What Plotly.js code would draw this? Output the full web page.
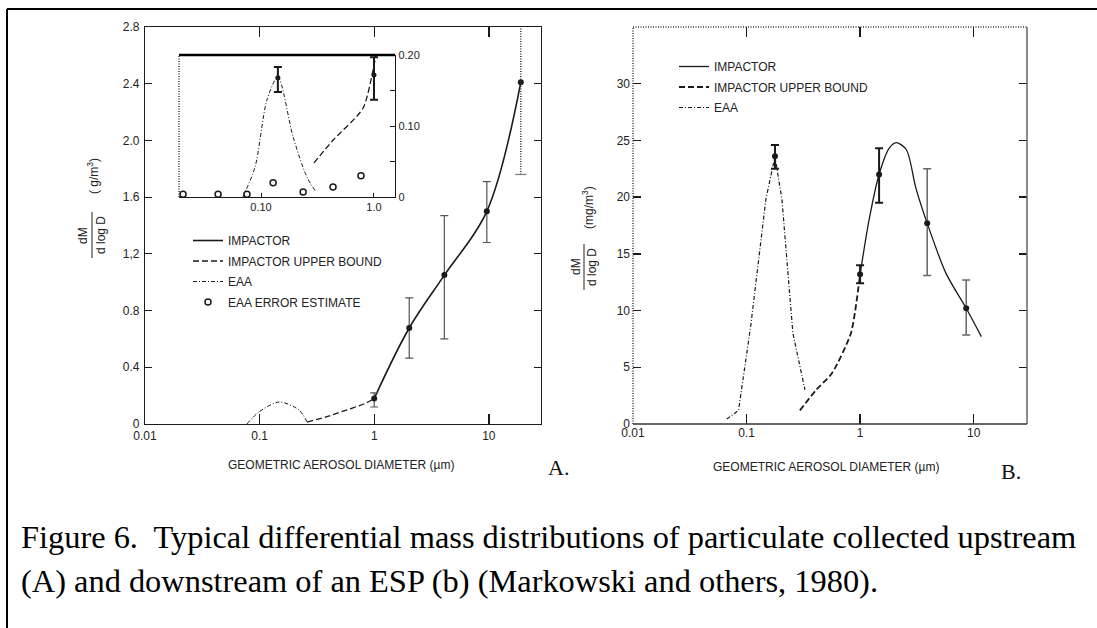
<!DOCTYPE html>
<html><head><meta charset="utf-8">
<script src="https://cdn.plot.ly/plotly-3.0.1.min.js"></script>
<style>html,body{margin:0;padding:0;background:#fff}#chart{width:1097px;height:628px}</style>
</head><body><div id="chart"></div>
<script>
// ---------- Panel A (upstream) ----------
const aImpX = [1.0, 2.02, 4.09, 9.6, 19];
const aImpY = [0.18, 0.677, 1.05, 1.50, 2.41];
const aBarX = [1.0, 2.02, 4.09, 9.6];
const aBarY = [0.18, 0.677, 1.05, 1.50];
const aBarHi = [0.22, 0.89, 1.47, 1.71];
const aBarLo = [0.12, 0.465, 0.60, 1.28];
const aOpenBarX = [19, 19];
const aOpenBarY = [1.76, 3.0];
const aUbX = [0.26, 0.38, 0.49, 0.85, 1.0];
const aUbY = [0.014, 0.05, 0.08, 0.148, 0.18];
const aEaaX = [0.0775, 0.0986, 0.148, 0.22, 0.26];
const aEaaY = [0, 0.085, 0.155, 0.10, 0.014];
// inset of panel A
const inEaaX = [0.069, 0.0885, 0.113, 0.141, 0.192, 0.255, 0.307];
const inEaaY = [0, 0.042, 0.137, 0.169, 0.085, 0.028, 0.007];
const inUbX = [0.294, 0.434, 0.80, 1.04];
const inUbY = [0.048, 0.080, 0.125, 0.2];
const inPtX = [0.141, 1.0];
const inPtY = [0.168, 0.172];
const inPtHi = [0.183, 0.197];
const inPtLo = [0.148, 0.137];
const inErrX = [0.0204, 0.0417, 0.0751, 0.128, 0.236, 0.434, 0.767];
const inErrY = [0.004, 0.004, 0.004, 0.020, 0.007, 0.014, 0.030];
// ---------- Panel B (downstream) ----------
const bEaaX = [0.067, 0.085, 0.109, 0.148, 0.178, 0.205, 0.256, 0.327];
const bEaaY = [0.44, 1.2, 8.7, 19.8, 23.6, 19.8, 8.0, 3.0];
const bUbX = [0.295, 0.41, 0.567, 0.83, 1.0];
const bUbY = [1.2, 3.0, 4.5, 8.0, 13.2];
const bImpX = [1.0, 1.2, 1.47, 1.8, 2.08, 2.55, 3.1, 3.9, 5.7, 8.6, 11.7];
const bImpY = [13.2, 18.0, 22.0, 24.3, 24.8, 24.2, 20.8, 17.7, 13.3, 10.2, 7.7];
const bDarkX = [0.178, 1.0, 1.47];
const bDarkY = [23.6, 13.2, 22.0];
const bDarkHi = [24.6, 14.0, 24.3];
const bDarkLo = [22.5, 12.4, 19.5];
const bGrayX = [3.9, 8.6];
const bGrayY = [17.7, 10.2];
const bGrayHi = [22.5, 12.7];
const bGrayLo = [13.1, 7.85];
// tick labels
const xTickVals = [0.01, 0.1, 1, 10];
const xTickText = ['0.01', '0.1', '1', '10'];
const aYTickVals = [0, 0.4, 0.8, 1.2, 1.6, 2.0, 2.4, 2.8];
const aYTickText = ['0', '0.4', '0.8', '1,2', '1.6', '2.0', '2.4', '2.8'];
const bYTickVals = [0, 5, 10, 15, 20, 25, 30];
const bYTickText = ['0', '5', '10', '15', '20', '25', '30'];
const inXTickVals = [0.1, 1.0];
const inXTickText = ['0.10', '1.0'];
const inYTickVals = [0, 0.10, 0.20];
const inYTickText = ['0', '0.10', '0.20'];

const plus = (hi, y) => hi.map((h, i) => h - y[i]);
const minus = (lo, y) => lo.map((l, i) => y[i] - l);

const W = 1097, H = 628;
const px = v => v / W;
const py = v => 1 - v / H;
const K = '#1a1a1a';
const EAA_DASH = '4px,2px,1px,2px';

const traces = [
  // Panel A main
  {x: aImpX, y: aImpY, xaxis: 'x', yaxis: 'y', mode: 'lines', name: 'IMPACTOR', legend: 'legend', legendgroup: 'a1',
   line: {color: K, width: 1.6, shape: 'spline', smoothing: 1}},
  {x: aUbX, y: aUbY, xaxis: 'x', yaxis: 'y', mode: 'lines', name: 'IMPACTOR UPPER BOUND', legend: 'legend', legendgroup: 'a2',
   line: {color: K, width: 1.3, dash: '6px,3px', shape: 'spline', smoothing: 0.6}},
  {x: aEaaX, y: aEaaY, xaxis: 'x', yaxis: 'y', mode: 'lines', name: 'EAA', legend: 'legend', legendgroup: 'a3',
   line: {color: K, width: 1, dash: EAA_DASH, shape: 'spline', smoothing: 0.8}},
  {x: inErrX, y: inErrY, xaxis: 'x3', yaxis: 'y3', mode: 'markers', name: 'EAA ERROR ESTIMATE', legend: 'legend', legendgroup: 'a4',
   cliponaxis: false, marker: {symbol: 'circle-open', size: 6, color: K, line: {width: 1.5, color: K}}},
  {x: aBarX, y: aBarY, xaxis: 'x', yaxis: 'y', mode: 'markers', showlegend: false,
   marker: {size: 6, color: K},
   error_y: {type: 'data', symmetric: false, array: plus(aBarHi, aBarY), arrayminus: minus(aBarLo, aBarY), color: '#555', thickness: 1.2, width: 4}},
  {x: [aImpX[4]], y: [aImpY[4]], xaxis: 'x', yaxis: 'y', mode: 'markers', showlegend: false, marker: {size: 6, color: K}},
  {x: aOpenBarX, y: aOpenBarY, xaxis: 'x', yaxis: 'y', mode: 'lines', showlegend: false,
   line: {color: '#333', width: 1.5, dash: '1px,1.5px'}},
  {x: [aOpenBarX[0]], y: [aOpenBarY[0]], xaxis: 'x', yaxis: 'y', mode: 'markers', showlegend: false,
   marker: {symbol: 'line-ew-open', size: 8, line: {width: 1.3, color: '#444'}}},
  // inset
  {x: inEaaX, y: inEaaY, xaxis: 'x3', yaxis: 'y3', mode: 'lines', showlegend: false,
   line: {color: K, width: 1, dash: EAA_DASH, shape: 'spline', smoothing: 0.8}},
  {x: inUbX, y: inUbY, xaxis: 'x3', yaxis: 'y3', mode: 'lines', showlegend: false,
   line: {color: K, width: 1.3, dash: '6px,3px', shape: 'spline', smoothing: 0.6}},
  {x: inPtX, y: inPtY, xaxis: 'x3', yaxis: 'y3', mode: 'markers', showlegend: false, cliponaxis: false,
   marker: {size: 5, color: K},
   error_y: {type: 'data', symmetric: false, array: plus(inPtHi, inPtY), arrayminus: minus(inPtLo, inPtY), color: K, thickness: 2, width: 4}},
  // Panel B
  {x: bImpX, y: bImpY, xaxis: 'x2', yaxis: 'y2', mode: 'lines', name: 'IMPACTOR', legend: 'legend2', legendgroup: 'b1',
   line: {color: K, width: 1.3, shape: 'spline', smoothing: 0.8}},
  {x: bUbX, y: bUbY, xaxis: 'x2', yaxis: 'y2', mode: 'lines', name: 'IMPACTOR UPPER BOUND', legend: 'legend2', legendgroup: 'b2',
   line: {color: K, width: 1.8, dash: '6px,3px', shape: 'spline', smoothing: 0.6}},
  {x: bEaaX, y: bEaaY, xaxis: 'x2', yaxis: 'y2', mode: 'lines', name: 'EAA', legend: 'legend2', legendgroup: 'b3',
   line: {color: K, width: 1.2, dash: EAA_DASH}},
  {x: bDarkX, y: bDarkY, xaxis: 'x2', yaxis: 'y2', mode: 'markers', showlegend: false,
   marker: {size: 6, color: K},
   error_y: {type: 'data', symmetric: false, array: plus(bDarkHi, bDarkY), arrayminus: minus(bDarkLo, bDarkY), color: K, thickness: 2, width: 4}},
  {x: bGrayX, y: bGrayY, xaxis: 'x2', yaxis: 'y2', mode: 'markers', showlegend: false,
   marker: {size: 6, color: K},
   error_y: {type: 'data', symmetric: false, array: plus(bGrayHi, bGrayY), arrayminus: minus(bGrayLo, bGrayY), color: '#666', thickness: 1.5, width: 4}}
];

const tickFont = {family: 'Liberation Sans, Arial, sans-serif', size: 12, color: '#222'};
const baseAx = {showgrid: false, zeroline: false, ticks: 'inside', tickcolor: K, tickfont: tickFont, fixedrange: true};

function note(x, y, text, extra) {
  return Object.assign({xref: 'paper', yref: 'paper', x: px(x), y: py(y), text: text, showarrow: false,
    xanchor: 'center', yanchor: 'middle', font: {size: 12, color: '#222'}}, extra || {});
}
const serif = 'Liberation Serif, Times New Roman, serif';

const layout = {
  width: W, height: H, margin: {l: 0, r: 0, t: 0, b: 0},
  paper_bgcolor: '#fff', plot_bgcolor: 'rgba(0,0,0,0)',
  font: {family: 'Liberation Sans, Arial, sans-serif', size: 12, color: '#222'},
  showlegend: true,
  xaxis: Object.assign({}, baseAx, {domain: [px(145), px(541)], anchor: 'y', type: 'log', range: [-2, 1.455],
    tickvals: xTickVals, ticktext: xTickText, ticklen: 10, tickwidth: 1.3, showline: true, linecolor: K, linewidth: 1.3, mirror: 'ticks'}),
  yaxis: Object.assign({}, baseAx, {domain: [py(424), py(27)], anchor: 'x', range: [0, 2.8], ticklabelstandoff: 2,
    tickvals: aYTickVals, ticktext: aYTickText, ticklen: 7, showline: true, linecolor: K, linewidth: 1.2, mirror: 'ticks'}),
  xaxis2: Object.assign({}, baseAx, {domain: [px(633), px(1027)], anchor: 'y2', type: 'log', range: [-2, 1.47],
    tickvals: xTickVals, ticktext: xTickText, ticklen: 10, tickwidth: 1.3, showline: false, mirror: 'ticks'}),
  yaxis2: Object.assign({}, baseAx, {domain: [py(424), py(27)], anchor: 'x2', range: [0, 35], ticklabelstandoff: 2,
    tickvals: bYTickVals, ticktext: bYTickText, ticklen: 8, tickwidth: 1.5, showline: false, mirror: 'ticks'}),
  xaxis3: Object.assign({}, baseAx, {domain: [px(179), px(395)], anchor: 'y3', type: 'log', range: [-1.726, 0.186],
    tickvals: inXTickVals, ticktext: inXTickText, ticklen: 4, showline: true, linecolor: K, linewidth: 1.2,
    tickfont: Object.assign({}, tickFont, {size: 11})}),
  yaxis3: Object.assign({}, baseAx, {domain: [py(197), py(55)], anchor: 'x3', side: 'right', range: [0, 0.2],
    tickvals: inYTickVals, ticktext: inYTickText, ticklen: 5, showline: true, linecolor: K, linewidth: 1.2,
    minor: {dtick: 0.05, ticks: 'inside', ticklen: 5, tickcolor: K},
    tickfont: Object.assign({}, tickFont, {size: 11})}),
  legend: {x: px(188), y: py(226), xanchor: 'left', yanchor: 'top', bgcolor: 'rgba(0,0,0,0)',
    traceorder: 'grouped', tracegroupgap: 1.5, font: {size: 12, color: '#222'}},
  legend2: {x: px(674), y: py(52), xanchor: 'left', yanchor: 'top', bgcolor: 'rgba(0,0,0,0)',
    traceorder: 'grouped', tracegroupgap: 1.5, font: {size: 12, color: '#222'}},
  shapes: [
    // outer frame
    {type: 'line', xref: 'paper', yref: 'paper', x0: px(7), x1: 1, y0: py(9), y1: py(9), line: {color: '#000', width: 2}},
    {type: 'line', xref: 'paper', yref: 'paper', x0: px(7), x1: px(7), y0: py(9), y1: 0, line: {color: '#000', width: 2}},
    // inset borders
    {type: 'line', xref: 'x3 domain', yref: 'y3 domain', x0: 0, x1: 1, y0: 1, y1: 1, line: {color: '#000', width: 2.5}},
    {type: 'line', xref: 'x3 domain', yref: 'y3 domain', x0: 0, x1: 0, y0: 0, y1: 1, line: {color: '#333', width: 1.5, dash: '1px,1.5px'}},
    // panel B borders
    {type: 'line', xref: 'x2 domain', yref: 'y2 domain', x0: 0, x1: 0, y0: 0, y1: 1, line: {color: '#333', width: 1.5, dash: '1px,1.5px'}},
    {type: 'line', xref: 'x2 domain', yref: 'y2 domain', x0: 0, x1: 1, y0: 1, y1: 1, line: {color: '#333', width: 1.5, dash: '1px,1.5px'}},
    {type: 'line', xref: 'x2 domain', yref: 'y2 domain', x0: 1, x1: 1, y0: 0, y1: 1, line: {color: '#666', width: 1.5}},
    {type: 'line', xref: 'x2 domain', yref: 'y2 domain', x0: 0, x1: 1, y0: 0, y1: 0, line: {color: '#333', width: 1.5}},
    // fraction bars of y titles
    {type: 'line', xref: 'paper', yref: 'paper', x0: px(92), x1: px(92), y0: py(212), y1: py(258), line: {color: '#222', width: 1}},
    {type: 'line', xref: 'paper', yref: 'paper', x0: px(584), x1: px(584), y0: py(244), y1: py(290), line: {color: '#222', width: 1}}
  ],
  annotations: [
    note(341, 465, 'GEOMETRIC AEROSOL DIAMETER (µm)'),
    note(826, 467, 'GEOMETRIC AEROSOL DIAMETER (µm)'),
    note(558, 468, 'A.', {font: {family: serif, size: 22, color: '#111'}}),
    note(1011, 471, 'B.', {font: {family: serif, size: 22, color: '#111'}}),
    // y titles panel A
    note(83, 235, 'dM', {textangle: -90}),
    note(101, 235, 'd log D', {textangle: -90}),
    note(93, 176, '( g/m<sup>3</sup>)', {textangle: -90}),
    // y titles panel B
    note(576, 267, 'dM', {textangle: -90}),
    note(592, 267, 'd log D', {textangle: -90}),
    note(588, 208, '(mg/m<sup>3</sup>)', {textangle: -90}),
    // caption
    note(19, 537, 'Figure 6.  Typical differential mass distributions of particulate collected upstream',
      {xanchor: 'left', font: {family: serif, size: 32.4, color: '#000'}}),
    note(19, 581, '(A) and downstream of an ESP (b) (Markowski and others, 1980).',
      {xanchor: 'left', font: {family: serif, size: 32.4, color: '#000'}})
  ]
};

Plotly.newPlot('chart', traces, layout, {staticPlot: true, displayModeBar: false});
</script>
</body></html>
